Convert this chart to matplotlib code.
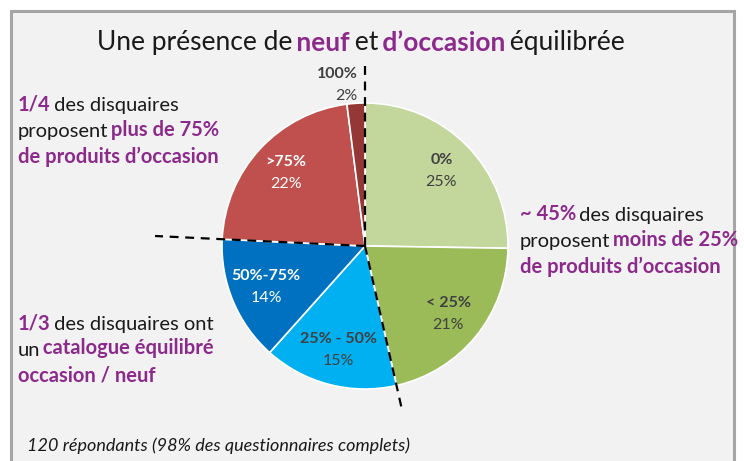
import numpy as np
import matplotlib
matplotlib.use("Agg")
from matplotlib import pyplot as plt
from matplotlib.patches import Rectangle

plt.rcParams['font.family'] = ['Lato', 'DejaVu Sans']

# pie data (share of second-hand products in the shop)
labels = ["0%", "< 25%", "25% - 50%", "50%-75%", ">75%", "100%"]
values = [25, 21, 15, 14, 22, 2]
value_labels = ["25%", "21%", "15%", "14%", "22%", "2%"]
colors = ["#c3d69b", "#9bbb59", "#00b0f0", "#0070c0", "#c0504d", "#953735"]
label_colors = ["#404040", "#404040", "#404040", "white", "white", "#404040"]

PURPLE = "#8c2a8c"
DARK = "#1a1a1a"

W, H = 744, 461
fig = plt.figure(figsize=(W / 100, H / 100), dpi=100, facecolor="white")
ax = fig.add_axes([0, 0, 1, 1])

def py(y):
    # convert picture y (from top) to axes y
    return H - y

# panel background and frame
ax.add_patch(Rectangle((11, 0), 723, py(11), facecolor="#f2f2f2", edgecolor="none", zorder=0))
ax.plot([11, 11, 734, 734], [0, py(11), py(11), 0], color="#a6a6a6", lw=2.2, zorder=1,
        solid_joinstyle="miter")

cx, cy, R = 365, py(246), 143
wedges, _ = ax.pie(values, colors=colors, startangle=90, counterclock=False,
                   center=(cx, cy), radius=R, frame=True,
                   wedgeprops=dict(edgecolor="white", linewidth=1.2))
ax.set_xlim(0, W)
ax.set_ylim(0, H)
ax.set_aspect("equal")
ax.axis("off")

# labels inside slices
for i, w in enumerate(wedges):
    mid = np.deg2rad((w.theta1 + w.theta2) / 2)
    if labels[i] == "100%":
        r = 1.13 * R
        x, y = cx + r * np.cos(mid) + 3, cy + r * np.sin(mid)
        ha = "right"
    else:
        r = 0.75 * R
        x, y = cx + r * np.cos(mid), cy + r * np.sin(mid)
        ha = "center"
    ax.text(x, y + 11, labels[i], ha=ha, va="center", fontsize=11.5, fontweight="bold",
            color=label_colors[i])
    ax.text(x, y - 11, value_labels[i], ha=ha, va="center", fontsize=11.5,
            color=label_colors[i])

# dashed separators
def dashed(theta, ext):
    t = np.deg2rad(theta)
    ax.plot([cx, cx + ext * R * np.cos(t)], [cy, cy + ext * R * np.sin(t)],
            color="black", lw=1.6, ls=(0, (4, 3)), zorder=5)

dashed(wedges[0].theta2, 1.30)
dashed(wedges[1].theta1, 1.18)
dashed(wedges[3].theta1, 1.47)

# multicolour text helper
def rich(x, y, parts, size):
    prev = None
    for text, color, bold in parts:
        kw = dict(fontsize=size, color=color, fontweight="bold" if bold else "normal")
        if prev is None:
            prev = ax.text(x, y, text, ha="left", va="center", **kw)
        else:
            prev = ax.annotate(text, xy=(1, 0), xycoords=prev, xytext=(-1.5, 0),
                               textcoords="offset points", ha="left", va="bottom", **kw)

rich(97, py(42), [("Une présence de", DARK, False), (" neuf", PURPLE, True),
                  (" et", DARK, False), (" d’occasion", PURPLE, True),
                  (" équilibrée", DARK, False)], 19)

rich(18, py(104), [("1/4", PURPLE, True), (" des disquaires", DARK, False)], 14.5)
rich(18, py(131), [("proposent", DARK, False), (" plus de 75%", PURPLE, True)], 14.5)
rich(18, py(157), [("de produits d’occasion", PURPLE, True)], 14.5)

rich(18, py(323), [("1/3", PURPLE, True), (" des disquaires ont", DARK, False)], 14.5)
rich(18, py(350), [("un", DARK, False), (" catalogue équilibré", PURPLE, True)], 14.5)
rich(18, py(376), [("occasion / neuf", PURPLE, True)], 14.5)

rich(520, py(214), [("~ 45%", PURPLE, True), (" des disquaires", DARK, False)], 14.5)
rich(520, py(241), [("proposent", DARK, False), (" moins de 25%", PURPLE, True)], 14.5)
rich(520, py(267), [("de produits d’occasion", PURPLE, True)], 14.5)

ax.text(27, py(446), "120 répondants (98% des questionnaires complets)", ha="left", va="center",
        fontsize=13, fontstyle="italic", color=DARK)

fig.savefig("out.png", dpi=100, facecolor="white")
